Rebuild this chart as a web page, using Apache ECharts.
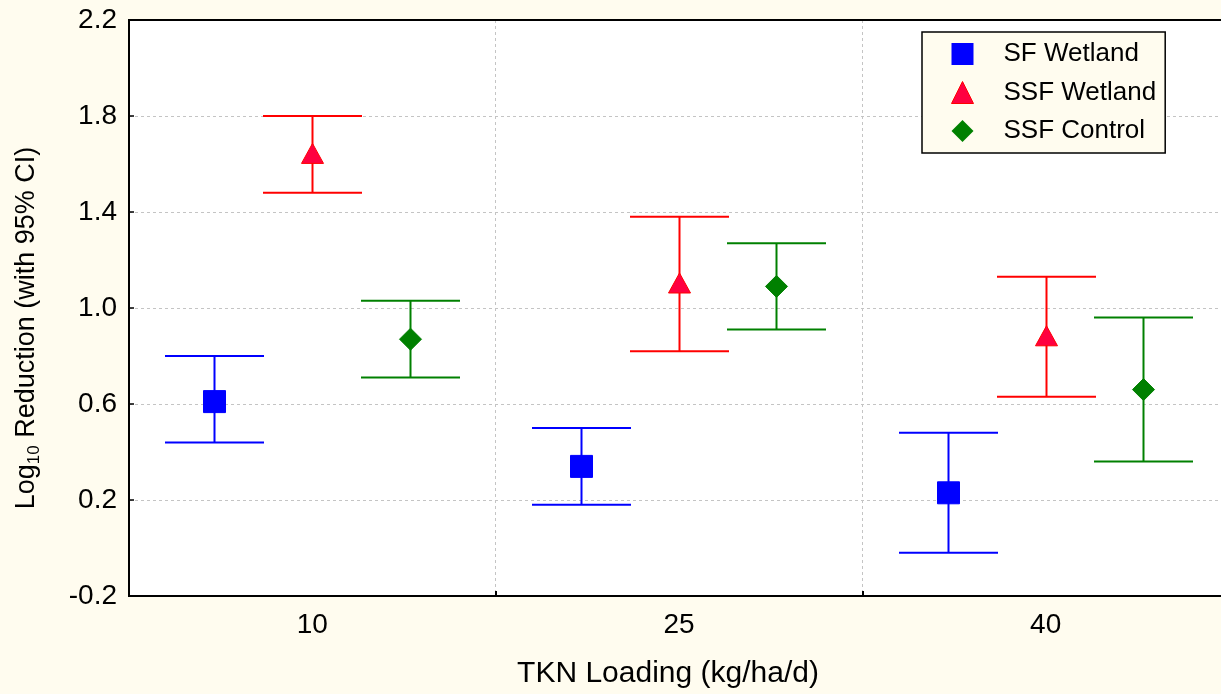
<!DOCTYPE html>
<html>
<head>
<meta charset="utf-8">
<script src="https://cdn.jsdelivr.net/npm/echarts@6/dist/echarts.min.js"></script>
<style>
html,body{margin:0;padding:0;background:#fffcef;overflow:hidden;}
#chart{width:1229px;height:694px;}
</style>
</head>
<body>
<div id="chart"></div>
<script>
// ---- data ----
var categories = ['10', '25', '40'];
var yTicks = [-0.2, 0.2, 0.6, 1.0, 1.4, 1.8, 2.2];
var seriesNames = ['SF Wetland', 'SSF Wetland', 'SSF Control'];
// mean, lower 95% CI, upper 95% CI per loading
var sfMean = [0.61, 0.34, 0.23];
var sfLow  = [0.44, 0.18, -0.02];
var sfHigh = [0.80, 0.50, 0.48];
var ssfMean = [1.64, 1.10, 0.88];
var ssfLow  = [1.48, 0.82, 0.63];
var ssfHigh = [1.80, 1.38, 1.13];
var ctlMean = [0.87, 1.09, 0.66];
var ctlLow  = [0.71, 0.91, 0.36];
var ctlHigh = [1.03, 1.27, 0.96];

function rows(m, lo, hi) {
  return categories.map(function (c, i) { return [i, m[i], lo[i], hi[i]]; });
}

var FONT = 'Liberation Sans, Arial, Helvetica, sans-serif';

function markerShape(kind, x, y, fill, stroke) {
  var s = 11;
  if (kind === 'rect') {
    return { type: 'rect', shape: { x: x - s, y: y - s, width: 2 * s, height: 2 * s },
      style: { fill: fill, stroke: stroke, lineWidth: 1 } };
  }
  if (kind === 'triangle') {
    return { type: 'polygon', shape: { points: [[x, y - 11], [x + 11, y + 9], [x - 11, y + 9]] },
      style: { fill: fill, stroke: stroke, lineWidth: 1 } };
  }
  return { type: 'polygon', shape: { points: [[x, y - 11], [x + 11, y], [x, y + 11], [x - 11, y]] },
    style: { fill: fill, stroke: stroke, lineWidth: 1 } };
}

function makeRender(offsetFrac, kind, color, fill) {
  return function (params, api) {
    var cat = api.value(0);
    var c = api.coord([cat, api.value(1)]);
    var lo = api.coord([cat, api.value(2)]);
    var hi = api.coord([cat, api.value(3)]);
    var w = api.size([1, 0])[0];
    var x = Math.round(c[0] + offsetFrac * w) + 0.5;
    var hw = 0.135 * w;
    var ls = { stroke: color, lineWidth: 2 };
    return {
      type: 'group',
      children: [
        { type: 'line', shape: { x1: x, y1: hi[1], x2: x, y2: lo[1] }, style: ls },
        { type: 'line', shape: { x1: x - hw, y1: hi[1], x2: x + hw, y2: hi[1] }, style: ls },
        { type: 'line', shape: { x1: x - hw, y1: lo[1], x2: x + hw, y2: lo[1] }, style: ls },
        markerShape(kind, x, c[1], fill, color)
      ]
    };
  };
}

var splitStyle = { color: '#c4c4c4', width: 1, type: [3, 3] };

var chart = echarts.init(document.getElementById('chart'));
chart.setOption({
  backgroundColor: '#fffcef',
  animation: false,
  textStyle: { fontFamily: FONT },
  grid: {
    left: 129, top: 20, right: 0, bottom: 98,
    show: true, backgroundColor: '#ffffff', borderColor: '#000000', borderWidth: 2
  },
  legend: {
    left: 922, top: 32,
    orient: 'vertical',
    backgroundColor: '#fffcef',
    borderColor: '#000000', borderWidth: 1.5,
    padding: [9, 9, 9, 29],
    itemWidth: 22, itemHeight: 22, itemGap: 12.5,
    textStyle: { fontSize: 26, lineHeight: 22, color: '#000', fontFamily: FONT, padding: [0, 0, 0, 25] },
    data: [
      { name: seriesNames[0], icon: 'rect', itemStyle: { color: '#0000ff' } },
      { name: seriesNames[1], icon: 'triangle', itemStyle: { color: '#ff0040', borderColor: '#ff0000', borderWidth: 1 } },
      { name: seriesNames[2], icon: 'diamond', itemStyle: { color: '#008000' } }
    ]
  },
  xAxis: [{
    type: 'category',
    data: categories,
    boundaryGap: true,
    name: 'TKN Loading (kg/ha/d)',
    nameLocation: 'middle',
    nameGap: 63,
    nameTextStyle: { fontSize: 30, lineHeight: 30, color: '#000', fontFamily: FONT, padding: [0, 22, 0, 0] },
    axisLine: { show: true, onZero: false, lineStyle: { color: '#000', width: 2 } },
    axisTick: { show: true, inside: true, length: 5, lineStyle: { color: '#000', width: 2 } },
    axisLabel: { fontSize: 28, color: '#000', margin: 15, fontFamily: FONT },
    splitLine: { show: true, lineStyle: splitStyle }
  }, {
    type: 'category',
    data: categories,
    position: 'top',
    axisLine: { show: true, onZero: false, lineStyle: { color: '#000', width: 2 } },
    axisTick: { show: false },
    axisLabel: { show: false },
    splitLine: { show: false }
  }],
  yAxis: {
    type: 'value',
    min: yTicks[0], max: yTicks[yTicks.length - 1], interval: 0.4,
    name: '{a|Log}{b|10}{a| Reduction (with 95% CI)}',
    nameLocation: 'middle',
    nameRotate: 90,
    nameGap: 86,
    nameTextStyle: {
      color: '#000', fontFamily: FONT, padding: [0, 40, 0, 0],
      rich: {
        a: { fontSize: 27, color: '#000', fontFamily: FONT, lineHeight: 32, verticalAlign: 'middle' },
        b: { fontSize: 17, color: '#000', fontFamily: FONT, lineHeight: 32, verticalAlign: 'bottom' }
      }
    },
    axisLine: { show: true, onZero: false, lineStyle: { color: '#000', width: 2 } },
    axisTick: { show: true, inside: true, length: 5, lineStyle: { color: '#000', width: 1.5 } },
    axisLabel: {
      fontSize: 28, color: '#000', margin: 12, fontFamily: FONT,
      formatter: function (v) { return v.toFixed(1); }
    },
    splitLine: { show: true, showMinLine: false, showMaxLine: false, lineStyle: splitStyle }
  },
  series: [
    { name: seriesNames[0], type: 'custom', itemStyle: { color: '#0000ff' },
      renderItem: makeRender(-0.267, 'rect', '#0000ff', '#0000ff'),
      data: rows(sfMean, sfLow, sfHigh), encode: { x: 0, y: [1, 2, 3] } },
    { name: seriesNames[1], type: 'custom', itemStyle: { color: '#ff0040' },
      renderItem: makeRender(0, 'triangle', '#ff0000', '#ff0040'),
      data: rows(ssfMean, ssfLow, ssfHigh), encode: { x: 0, y: [1, 2, 3] } },
    { name: seriesNames[2], type: 'custom', itemStyle: { color: '#008000' },
      renderItem: makeRender(0.265, 'diamond', '#008000', '#008000'),
      data: rows(ctlMean, ctlLow, ctlHigh), encode: { x: 0, y: [1, 2, 3] } }
  ]
});
</script>
</body>
</html>
